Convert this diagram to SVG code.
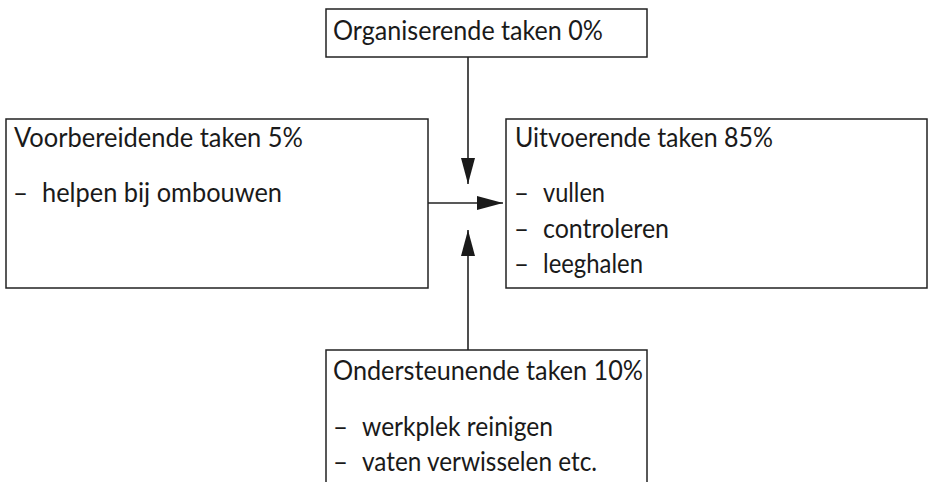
<svg xmlns="http://www.w3.org/2000/svg" width="929" height="482" viewBox="0 0 929 482">
  <defs>
    <style>
      .box { fill: #ffffff; stroke: #222222; stroke-width: 1.5; }
      .t { font-family: Lato, "Open Sans", "Liberation Sans", sans-serif; font-size: 26px; fill: #1a1a1a; }
      .conn { stroke: #222222; stroke-width: 1.6; fill: none; }
    </style>
    <marker id="arrow" markerUnits="userSpaceOnUse" markerWidth="26" markerHeight="14" refX="26" refY="7" orient="auto">
      <path d="M0,0 L26,7 L0,14 z" fill="#1a1a1a"/>
    </marker>
  </defs>
  <rect width="929" height="482" fill="#ffffff"/>

  <g id="connectors">
    <line class="conn" x1="468" y1="57" x2="468" y2="184" marker-end="url(#arrow)"/>
    <line class="conn" x1="428" y1="203" x2="503" y2="203" marker-end="url(#arrow)"/>
    <line class="conn" x1="468" y1="350" x2="468" y2="230" marker-end="url(#arrow)"/>
  </g>

  <g id="organiserende">
    <rect class="box" x="326" y="9" width="321" height="48"/>
    <text class="t" x="333" y="40" textLength="270" lengthAdjust="spacingAndGlyphs">Organiserende taken 0%</text>
  </g>

  <g id="voorbereidende">
    <rect class="box" x="6" y="119" width="422" height="169"/>
    <text class="t" x="14" y="147" textLength="289" lengthAdjust="spacingAndGlyphs">Voorbereidende taken 5%</text>
    <text class="t" x="13" y="202" textLength="15" lengthAdjust="spacingAndGlyphs">–</text>
    <text class="t" x="42" y="202" textLength="240" lengthAdjust="spacingAndGlyphs">helpen bij ombouwen</text>
  </g>

  <g id="uitvoerende">
    <rect class="box" x="506" y="119" width="421" height="169"/>
    <text class="t" x="515" y="147" textLength="258" lengthAdjust="spacingAndGlyphs">Uitvoerende taken 85%</text>
    <text class="t" x="514" y="202" textLength="15" lengthAdjust="spacingAndGlyphs">–</text>
    <text class="t" x="543" y="202" textLength="62" lengthAdjust="spacingAndGlyphs">vullen</text>
    <text class="t" x="514" y="238" textLength="15" lengthAdjust="spacingAndGlyphs">–</text>
    <text class="t" x="543" y="238" textLength="126" lengthAdjust="spacingAndGlyphs">controleren</text>
    <text class="t" x="514" y="273" textLength="15" lengthAdjust="spacingAndGlyphs">–</text>
    <text class="t" x="543" y="273" textLength="100" lengthAdjust="spacingAndGlyphs">leeghalen</text>
  </g>

  <g id="ondersteunende">
    <rect class="box" x="326" y="350" width="321" height="150"/>
    <text class="t" x="333" y="380" textLength="310" lengthAdjust="spacingAndGlyphs">Ondersteunende taken 10%</text>
    <text class="t" x="333" y="436" textLength="15" lengthAdjust="spacingAndGlyphs">–</text>
    <text class="t" x="362" y="436" textLength="191" lengthAdjust="spacingAndGlyphs">werkplek reinigen</text>
    <text class="t" x="333" y="471" textLength="15" lengthAdjust="spacingAndGlyphs">–</text>
    <text class="t" x="362" y="471" textLength="235" lengthAdjust="spacingAndGlyphs">vaten verwisselen etc.</text>
  </g>
</svg>
